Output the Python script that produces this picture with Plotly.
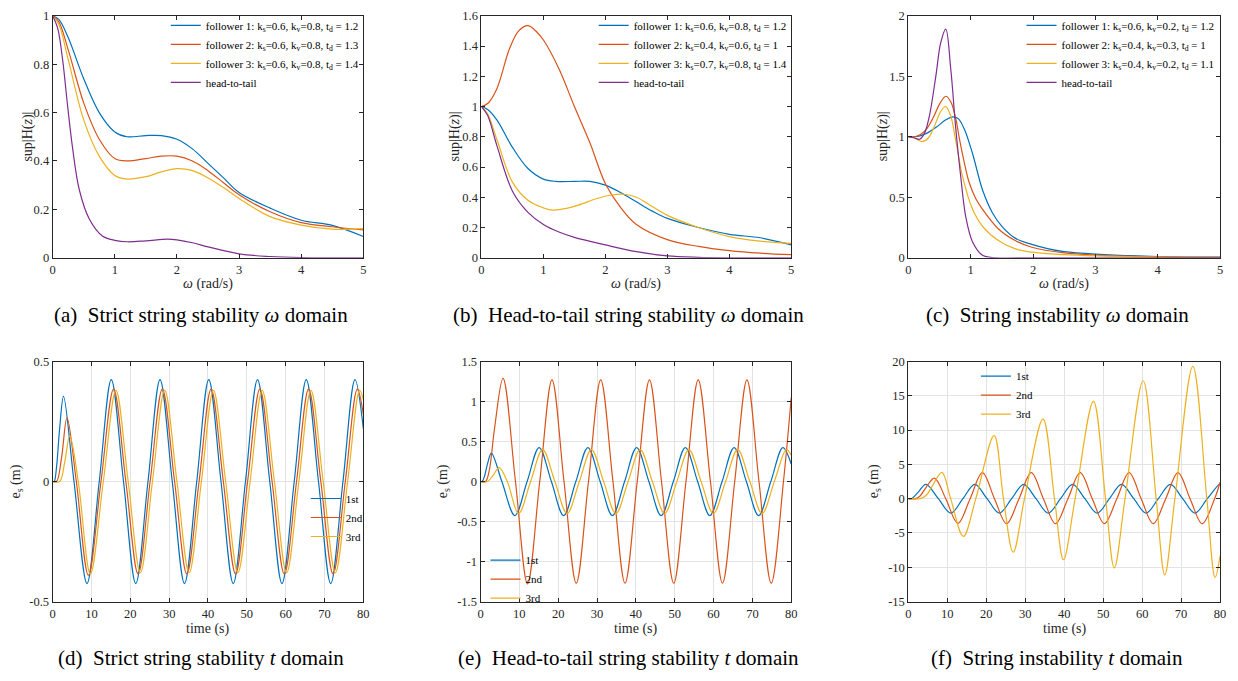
import plotly.graph_objects as go

# ---------------- data: frequency domain (omega, rad/s) ----------------
# (a) strict string stability
wa_f = [0, 0.1, 0.25, 0.5, 0.75, 1.0, 1.2, 1.5, 1.75, 2.0, 2.25, 2.5, 2.75, 3.0, 3.5, 4.0, 4.5, 5.0]
a_f1 = [1.0, 0.985, 0.91, 0.74, 0.60, 0.52, 0.50, 0.505, 0.505, 0.49, 0.45, 0.39, 0.33, 0.27, 0.205, 0.155, 0.134, 0.088]
a_f2 = [1.0, 0.975, 0.86, 0.64, 0.49, 0.41, 0.40, 0.41, 0.42, 0.42, 0.40, 0.36, 0.31, 0.26, 0.19, 0.145, 0.128, 0.115]
a_f3 = [1.0, 0.965, 0.82, 0.57, 0.42, 0.34, 0.325, 0.335, 0.355, 0.368, 0.36, 0.33, 0.29, 0.245, 0.17, 0.135, 0.118, 0.12]
wa_h = [0, 0.08, 0.16, 0.24, 0.32, 0.43, 0.59, 0.8, 1.0, 1.2, 1.5, 1.85, 2.0, 2.25, 2.5, 3.0, 3.5, 4.0, 5.0]
a_ht = [1.0, 0.95, 0.82, 0.63, 0.455, 0.28, 0.16, 0.09, 0.072, 0.066, 0.07, 0.077, 0.074, 0.062, 0.045, 0.016, 0.005, 0.001, 0.0]

# (b) head-to-tail string stability
wb_f1 = [0, 0.1, 0.25, 0.5, 0.75, 1.0, 1.2, 1.5, 1.75, 2.0, 2.25, 2.5, 2.75, 3.0, 3.5, 4.0, 4.5, 5.0]
b_f1 = [1.0, 0.98, 0.91, 0.73, 0.59, 0.52, 0.505, 0.505, 0.505, 0.48, 0.43, 0.37, 0.31, 0.26, 0.20, 0.155, 0.132, 0.085]
wb_f2 = [0, 0.1, 0.25, 0.45, 0.6, 0.75, 0.9, 1.0, 1.25, 1.5, 1.75, 2.0, 2.25, 2.5, 3.0, 3.5, 4.0, 4.5, 5.0]
b_f2 = [1.0, 1.02, 1.12, 1.38, 1.50, 1.535, 1.49, 1.44, 1.25, 1.0, 0.76, 0.49, 0.33, 0.22, 0.12, 0.075, 0.047, 0.03, 0.02]
wb_f3 = [0, 0.1, 0.25, 0.5, 0.75, 1.0, 1.15, 1.5, 1.85, 2.1, 2.3, 2.5, 2.75, 3.0, 3.5, 4.0, 4.5, 5.0]
b_f3 = [1.0, 0.95, 0.78, 0.50, 0.38, 0.33, 0.315, 0.34, 0.39, 0.415, 0.42, 0.40, 0.34, 0.28, 0.20, 0.14, 0.11, 0.095]
wb_h = [0, 0.1, 0.25, 0.5, 0.75, 1.0, 1.25, 1.5, 2.0, 2.5, 3.0, 3.5, 4.0, 5.0]
b_ht = [1.0, 0.94, 0.74, 0.44, 0.30, 0.22, 0.17, 0.135, 0.085, 0.04, 0.012, 0.003, 0.0, 0.0]

# (c) string instability
wc_f1 = [0, 0.1, 0.2, 0.3, 0.45, 0.6, 0.71, 0.8, 0.9, 1.03, 1.19, 1.35, 1.5, 1.72, 1.98, 2.25, 2.5, 3.0, 4.0, 5.0]
c_f1 = [1.0, 1.0, 1.01, 1.03, 1.08, 1.14, 1.165, 1.15, 1.06, 0.86, 0.56, 0.37, 0.26, 0.16, 0.11, 0.073, 0.05, 0.03, 0.01, 0.005]
wc_f2 = [0, 0.1, 0.2, 0.3, 0.4, 0.5, 0.6, 0.68, 0.76, 0.82, 0.9, 0.97, 1.08, 1.19, 1.45, 1.72, 1.98, 2.5, 3.0, 4.0, 5.0]
c_f2 = [1.0, 1.0, 1.02, 1.07, 1.16, 1.27, 1.335, 1.29, 1.15, 0.98, 0.78, 0.63, 0.49, 0.40, 0.235, 0.14, 0.087, 0.04, 0.022, 0.008, 0.004]
wc_f3 = [0, 0.1, 0.22, 0.32, 0.42, 0.52, 0.6, 0.68, 0.76, 0.87, 1.03, 1.19, 1.45, 1.72, 1.98, 2.5, 3.0, 4.0, 5.0]
c_f3 = [1.0, 0.99, 0.96, 0.99, 1.09, 1.21, 1.25, 1.17, 0.97, 0.67, 0.40, 0.26, 0.14, 0.073, 0.046, 0.025, 0.015, 0.005, 0.002]
wc_h = [0, 0.1, 0.18, 0.26, 0.34, 0.44, 0.52, 0.6, 0.68, 0.76, 0.84, 0.92, 1.03, 1.19, 1.4, 2.0, 5.0]
c_ht = [1.0, 0.99, 0.98, 1.03, 1.18, 1.5, 1.78, 1.89, 1.56, 1.07, 0.67, 0.34, 0.13, 0.02, 0.0, 0.0, 0.0]

# ---------------- data: time domain (s) ----------------
# 1st follower, stable cases (d) and (e)
t_1st = [0, 0.4, 1.0, 1.8, 2.8, 5.5, 8.85, 12.0, 15.1, 18.25, 21.4, 24.55, 27.65, 30.8, 33.95, 37.1,
         40.2, 43.35, 46.5, 49.65, 52.75, 55.9, 59.05, 62.2, 65.3, 68.45, 71.6, 74.75, 77.85, 80]
e_1st = [0, 0, 0.06, 0.22, 0.355, 0, -0.425, 0, 0.425, 0, -0.425, 0, 0.425, 0, -0.425, 0,
         0.425, 0, -0.425, 0, 0.425, 0, -0.425, 0, 0.425, 0, -0.425, 0, 0.425, 0.22]
# (d) 2nd and 3rd
t_d2 = [0, 1.0, 2.3, 3.7, 6.1, 9.2, 12.45, 15.7, 18.85, 22.0, 25.1, 28.25, 31.4, 34.55, 37.7,
        40.8, 43.95, 47.1, 50.2, 53.35, 56.5, 59.65, 62.8, 65.9, 69.05, 72.2, 75.35, 78.45, 80]
e_d2 = [0, 0, 0.1, 0.265, 0, -0.39, 0, 0.385, 0, -0.385, 0, 0.385, 0, -0.385, 0,
        0.385, 0, -0.385, 0, 0.385, 0, -0.385, 0, 0.385, 0, -0.385, 0, 0.385, 0.28]
t_d3 = [0, 1.8, 3.1, 4.4, 6.6, 9.7, 13.05, 16.3, 19.45, 22.6, 25.7, 28.85, 32.0, 35.15, 38.3,
        41.4, 44.55, 47.7, 50.85, 53.95, 57.1, 60.25, 63.4, 66.5, 69.65, 72.8, 75.95, 79.05, 80]
e_d3 = [0, 0, 0.08, 0.19, 0, -0.385, 0, 0.38, 0, -0.38, 0, 0.38, 0, -0.38, 0,
        0.38, 0, -0.38, 0, 0.38, 0, -0.38, 0, 0.38, 0, -0.38, 0, 0.38, 0.34]
# (e) 2nd and 3rd
t_e2 = [0, 1.3, 2.3, 3.6, 5.8, 9.0, 12.1, 15.25, 18.4, 21.5, 24.65, 27.8, 30.95, 34.1, 37.2, 40.35,
        43.5, 46.6, 49.75, 52.9, 56.05, 59.2, 62.3, 65.45, 68.6, 71.7, 74.85, 78.0, 80]
e_e2 = [0, 0, 0.15, 0.66, 1.29, 0, -1.28, 0, 1.27, 0, -1.27, 0, 1.27, 0, -1.27, 0,
        1.27, 0, -1.27, 0, 1.27, 0, -1.27, 0, 1.27, 0, -1.27, 0, 1.05]
t_e3 = [0, 1.8, 3.3, 4.8, 6.9, 9.8, 12.9, 16.0, 19.15, 22.3, 25.45, 28.55, 31.7, 34.85, 38.0,
        41.1, 44.25, 47.4, 50.55, 53.65, 56.8, 59.95, 63.1, 66.2, 69.35, 72.5, 75.65, 78.75, 80]
e_e3 = [0, 0, 0.08, 0.175, 0, -0.40, 0, 0.40, 0, -0.40, 0, 0.40, 0, -0.40, 0,
        0.40, 0, -0.40, 0, 0.40, 0, -0.40, 0, 0.40, 0, -0.40, 0, 0.40, 0.33]
# (f) string instability
t_f1 = [0, 0.8, 2.6, 4.5, 7.7, 10.9, 14.0, 17.05, 20.2, 23.35, 26.5, 29.6, 32.75, 35.9, 39.05,
        42.15, 45.3, 48.45, 51.6, 54.7, 57.85, 61.0, 64.15, 67.25, 70.4, 73.55, 76.7, 79.8, 80]
e_f1 = [0, 0, 1.0, 2.1, 0, -2.1, 0, 2.1, 0, -2.1, 0, 2.1, 0, -2.1, 0,
        2.1, 0, -2.1, 0, 2.1, 0, -2.1, 0, 2.1, 0, -2.1, 0, 2.1, 2.09]
t_f2 = [0, 1.8, 3.0, 4.6, 6.7, 9.6, 12.7, 15.85, 19.0, 22.1, 25.2, 28.4, 31.55, 34.65, 37.75, 40.95,
        44.1, 47.2, 50.3, 53.5, 56.65, 59.75, 62.85, 66.05, 69.2, 72.3, 75.4, 78.6, 80]
e_f2 = [0, 0, 0.4, 1.7, 3.0, 0, -3.6, 0, 3.8, 0, -3.65, 0, 3.8, 0, -3.65, 0,
        3.8, 0, -3.65, 0, 3.8, 0, -3.65, 0, 3.8, 0, -3.65, 0, 2.4]
t_f3 = [0, 3.0, 4.6, 6.2, 8.6, 10.85, 14.1, 17.3, 22.0, 24.4, 26.9, 29.8, 34.55, 37.5, 39.8, 42.8,
        47.5, 50.6, 52.85, 55.6, 60.25, 63.6, 65.8, 68.4, 73.0, 76.6, 78.7, 80]
e_f3 = [0, 0, 0.5, 1.9, 3.83, 0, -5.5, 0, 9.2, 0, -7.8, 0, 11.6, 0, -8.9, 0,
        14.2, 0, -10.1, 0, 17.2, 0, -11.1, 0, 19.3, 0, -11.5, -8.3]

# ---------------- labels ----------------
leg_a = ["follower 1: k<sub>s</sub>=0.6, k<sub>v</sub>=0.8, t<sub>d</sub> = 1.2",
         "follower 2: k<sub>s</sub>=0.6, k<sub>v</sub>=0.8, t<sub>d</sub> = 1.3",
         "follower 3: k<sub>s</sub>=0.6, k<sub>v</sub>=0.8, t<sub>d</sub> = 1.4",
         "head-to-tail"]
leg_b = ["follower 1: k<sub>s</sub>=0.6, k<sub>v</sub>=0.8, t<sub>d</sub> = 1.2",
         "follower 2: k<sub>s</sub>=0.4, k<sub>v</sub>=0.6, t<sub>d</sub> = 1",
         "follower 3: k<sub>s</sub>=0.7, k<sub>v</sub>=0.8, t<sub>d</sub> = 1.4",
         "head-to-tail"]
leg_c = ["follower 1: k<sub>s</sub>=0.6, k<sub>v</sub>=0.2, t<sub>d</sub> = 1.2",
         "follower 2: k<sub>s</sub>=0.4, k<sub>v</sub>=0.3, t<sub>d</sub> = 1",
         "follower 3: k<sub>s</sub>=0.4, k<sub>v</sub>=0.2, t<sub>d</sub> = 1.1",
         "head-to-tail"]
leg_t = ["1st", "2nd", "3rd"]
captions = ["(a)\u00a0 Strict string stability <i>ω</i> domain",
            "(b)\u00a0 Head-to-tail string stability <i>ω</i> domain",
            "(c)\u00a0 String instability <i>ω</i> domain",
            "(d)\u00a0 Strict string stability <i>t</i> domain",
            "(e)\u00a0 Head-to-tail string stability <i>t</i> domain",
            "(f)\u00a0 String instability <i>t</i> domain"]

COLORS = ["#0072BD", "#D95319", "#EDB120", "#7E2F8E"]
FONT = "Liberation Serif, Times New Roman, serif"
W, H = 1238, 681

def fx(px):
    return px / W

def fy(py):
    return 1 - py / H

# axes pixel boxes (left, right, top, bottom)
boxes = [(50, 363, 9, 256), (482, 794, 9, 256), (912, 1226, 9, 256),
         (50, 363, 362, 607), (481, 794, 362, 607), (912, 1226, 362, 607)]

fig = go.Figure()

def add(ax, x, y, name, color, legend):
    fig.add_trace(go.Scatter(
        x=x, y=y, name=name, mode="lines",
        line=dict(color=color, width=1.2, shape="spline", smoothing=1.0),
        xaxis="x" + ("" if ax == 1 else str(ax)),
        yaxis="y" + ("" if ax == 1 else str(ax)),
        legend="legend" + ("" if legend == 1 else str(legend)),
        hoverinfo="skip"))

add(1, wa_f, a_f1, leg_a[0], COLORS[0], 1)
add(1, wa_f, a_f2, leg_a[1], COLORS[1], 1)
add(1, wa_f, a_f3, leg_a[2], COLORS[2], 1)
add(1, wa_h, a_ht, leg_a[3], COLORS[3], 1)

add(2, wb_f1, b_f1, leg_b[0], COLORS[0], 2)
add(2, wb_f2, b_f2, leg_b[1], COLORS[1], 2)
add(2, wb_f3, b_f3, leg_b[2], COLORS[2], 2)
add(2, wb_h, b_ht, leg_b[3], COLORS[3], 2)

add(3, wc_f1, c_f1, leg_c[0], COLORS[0], 3)
add(3, wc_f2, c_f2, leg_c[1], COLORS[1], 3)
add(3, wc_f3, c_f3, leg_c[2], COLORS[2], 3)
add(3, wc_h, c_ht, leg_c[3], COLORS[3], 3)

add(4, t_1st, e_1st, leg_t[0], COLORS[0], 4)
add(4, t_d2, e_d2, leg_t[1], COLORS[1], 4)
add(4, t_d3, e_d3, leg_t[2], COLORS[2], 4)

add(5, t_1st, e_1st, leg_t[0], COLORS[0], 5)
add(5, t_e2, e_e2, leg_t[1], COLORS[1], 5)
add(5, t_e3, e_e3, leg_t[2], COLORS[2], 5)

add(6, t_f1, e_f1, leg_t[0], COLORS[0], 6)
add(6, t_f2, e_f2, leg_t[1], COLORS[1], 6)
add(6, t_f3, e_f3, leg_t[2], COLORS[2], 6)

def fmt(v):
    return ("%g" % v)

xt_w = [0, 1, 2, 3, 4, 5]
xt_t = [0, 10, 20, 30, 40, 50, 60, 70, 80]
yt = [[0, 0.2, 0.4, 0.6, 0.8, 1.0],
      [0, 0.2, 0.4, 0.6, 0.8, 1.0, 1.2, 1.4, 1.6],
      [0, 0.5, 1.0, 1.5, 2.0],
      [-0.5, 0, 0.5],
      [-1.5, -1, -0.5, 0, 0.5, 1, 1.5],
      [-15, -10, -5, 0, 5, 10, 15, 20]]
xr = [[0, 5]] * 3 + [[0, 80]] * 3
yr = [[0, 1], [0, 1.6], [0, 2], [-0.5, 0.5], [-1.5, 1.5], [-15, 20]]

layout = dict(width=W, height=H, margin=dict(l=0, r=0, t=0, b=0),
              paper_bgcolor="white", plot_bgcolor="white",
              font=dict(family=FONT, size=12, color="#262626"),
              showlegend=True)

for i in range(6):
    l, r, t, b = boxes[i]
    sx = "" if i == 0 else str(i + 1)
    grid = i >= 3
    xtv = xt_w if i < 3 else xt_t
    common = dict(showline=True, linecolor="#262626", linewidth=1, mirror="ticks",
                  ticks="inside", ticklen=4, tickcolor="#262626", tickwidth=1,
                  zeroline=False, showgrid=grid, gridcolor="#e3e3e3", gridwidth=1,
                  tickfont=dict(family=FONT, size=12.5, color="#262626"))
    layout["xaxis" + sx] = dict(domain=[fx(l), fx(r)], range=xr[i], anchor="y" + sx,
                                tickvals=xtv, ticktext=[fmt(v) for v in xtv], **common)
    layout["yaxis" + sx] = dict(domain=[fy(b), fy(t)], range=yr[i], anchor="x" + sx,
                                tickvals=yt[i], ticktext=[fmt(v) for v in yt[i]], **common)

# legends
leg_common = dict(bgcolor="rgba(0,0,0,0)", borderwidth=0, xanchor="left", yanchor="top",
                  font=dict(family=FONT, size=11, color="#000000"), tracegroupgap=0)
leg_pos = [(164, 4), (595, 4), (1026, 4), (305, 487), (486, 550), (980, 362)]
for i, (px, py) in enumerate(leg_pos):
    key = "legend" if i == 0 else "legend" + str(i + 1)
    layout[key] = dict(x=fx(px), y=fy(py), **leg_common)

fig.update_layout(**layout)

ann = []
# captions
cap_x = [199, 630, 1062, 199, 630, 1062]
cap_y = [314, 314, 314, 665, 665, 665]
for i in range(6):
    ann.append(dict(text=captions[i], x=fx(cap_x[i]), y=fy(cap_y[i]), xref="paper", yref="paper",
                    showarrow=False, xanchor="center", yanchor="middle",
                    font=dict(family=FONT, size=21, color="#000000")))
# axis titles
for i in range(6):
    l, r, t, b = boxes[i]
    xtitle = "<i>ω</i> (rad/s)" if i < 3 else "time (s)"
    ytitle = "sup|H(<i>z</i>)|" if i < 3 else "e<sub>s</sub> (m)"
    xt_y = 283 if i < 3 else 635
    ann.append(dict(text=xtitle, x=fx((l + r) / 2), y=fy(xt_y), xref="paper", yref="paper",
                    showarrow=False, xanchor="center", yanchor="middle",
                    font=dict(family=FONT, size=14, color="#262626")))
    yx = [25, 455, 886, 14, 444, 878][i]
    ann.append(dict(text=ytitle, x=fx(yx), y=fy((t + b) / 2), xref="paper", yref="paper",
                    showarrow=False, xanchor="center", yanchor="middle", textangle=-90,
                    font=dict(family=FONT, size=14, color="#262626")))
fig.update_layout(annotations=ann)

post = (
    "document.documentElement.style.margin='0px';"
    "document.documentElement.style.overflow='hidden';"
    "document.body.style.margin='0px';"
    "document.body.style.overflow='hidden';"
    "var gd=document.getElementById('{plot_id}');"
    "var vw=window.innerWidth, vh=window.innerHeight;"
    "if(vw>0 && vh>0 && (vw!==1238 || vh!==681)){"
    "gd.style.width=vw+'px';gd.style.height=vh+'px';"
    "Plotly.relayout(gd,{width:vw,height:vh});}"
)
fig.write_html("out.html", config={"displayModeBar": False, "staticPlot": True},
               post_script=post)
